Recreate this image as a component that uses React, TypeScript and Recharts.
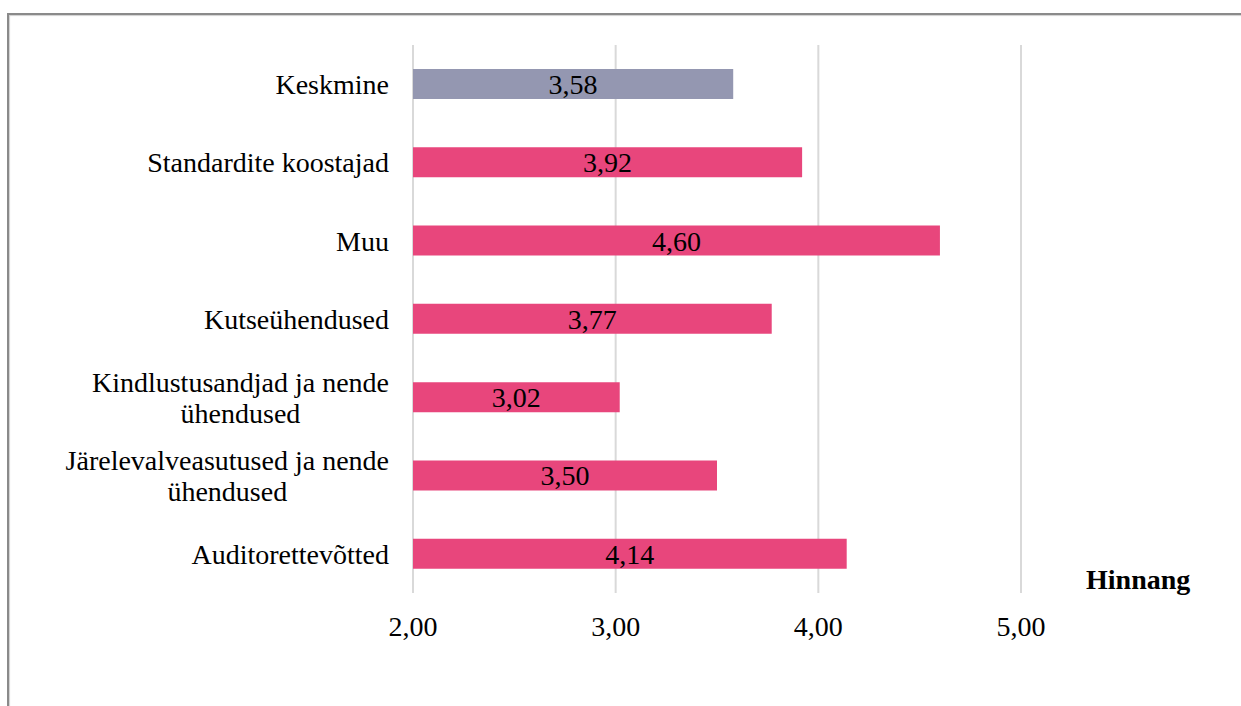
import React from 'react';
import { BarChart, Bar, XAxis, YAxis, CartesianGrid, Cell, LabelList, Label } from 'recharts';

// Average rating by stakeholder group
const categories = [
  'Keskmine',
  'Standardite koostajad',
  'Muu',
  'Kutseühendused',
  'Kindlustusandjad ja nende\nühendused',
  'Järelevalveasutused ja nende\nühendused',
  'Auditorettevõtted',
];
const ratings = [3.58, 3.92, 4.6, 3.77, 3.02, 3.5, 4.14];
const xTicks = [2, 3, 4, 5];
const axisTitle = 'Hinnang';

const data = categories.map((name, i) => ({ name, value: ratings[i] }));

const FONT = "'Liberation Serif', 'Times New Roman', serif";
const FS = 28;
const PINK = '#e8467c';
const GREY = '#9497b1';

const fmt = (v: number) => v.toFixed(2).replace('.', ',');

let ctx: CanvasRenderingContext2D | null = null;
const measure = (s: string) => {
  if (!ctx && typeof document !== 'undefined') {
    ctx = document.createElement('canvas').getContext('2d');
  }
  if (ctx) {
    ctx.font = `${FS}px ${FONT}`;
    return ctx.measureText(s).width;
  }
  return s.length * FS * 0.45;
};

const CategoryTick = (props: any) => {
  const { x, y, payload } = props;
  const lines: string[] = String(payload.value).split('\n');
  const right = x - 24;
  const lineH = 31;
  if (lines.length === 1) {
    return (
      <text x={right} y={y} dy="0.35em" textAnchor="end" fontFamily={FONT} fontSize={FS} fill="#000">
        {lines[0]}
      </text>
    );
  }
  const w = Math.max(...lines.map(measure));
  const cx = right - w / 2;
  const top = y - ((lines.length - 1) * lineH) / 2;
  return (
    <text x={cx} y={top} textAnchor="middle" fontFamily={FONT} fontSize={FS} fill="#000">
      {lines.map((l, i) => (
        <tspan key={i} x={cx} y={top + i * lineH} dy="0.35em">
          {l}
        </tspan>
      ))}
    </text>
  );
};

const ValueTick = (props: any) => {
  const { x, y, payload } = props;
  return (
    <text x={x} y={y + 43} textAnchor="middle" fontFamily={FONT} fontSize={FS} fill="#000">
      {fmt(payload.value)}
    </text>
  );
};

const AxisTitle = (props: any) => {
  const vb = props.viewBox || {};
  return (
    <text
      x={vb.x + vb.width + 65}
      y={vb.y - 4}
      textAnchor="start"
      fontFamily={FONT}
      fontSize={FS}
      fontWeight="bold"
      fill="#000"
    >
      {axisTitle}
    </text>
  );
};

export default function App() {
  return (
    <div style={{ position: 'absolute', left: 0, top: 0, width: 1241, height: 706, overflow: 'hidden', background: '#fff' }}>
      <div
        style={{
          position: 'absolute',
          left: 7,
          top: 13,
          width: 1400,
          height: 900,
          borderTop: '2px solid #8a8a8a',
          borderLeft: '2px solid #8a8a8a',
          boxShadow: 'inset 1px 1px 1px #d0d0d0',
        }}
      />
      <div style={{ position: 'absolute', left: 0, top: 0 }}>
        <BarChart
          width={1241}
          height={706}
          data={data}
          layout="vertical"
          margin={{ top: 45, right: 220, bottom: 0, left: 0 }}
        >
          <CartesianGrid horizontal={false} vertical={true} stroke="#d9d9d9" strokeWidth={2} />
          <XAxis
            type="number"
            domain={[2, 5]}
            ticks={xTicks}
            interval={0}
            axisLine={false}
            tickLine={false}
            tickSize={0}
            tickMargin={0}
            height={113}
            tick={<ValueTick />}
          >
            <Label content={<AxisTitle />} />
          </XAxis>
          <YAxis
            type="category"
            dataKey="name"
            width={413}
            axisLine={false}
            tickLine={false}
            tickSize={0}
            tickMargin={0}
            interval={0}
            tick={<CategoryTick />}
          />
          <Bar dataKey="value" barSize={30} isAnimationActive={false}>
            {data.map((d, i) => (
              <Cell key={d.name} fill={i === 0 ? GREY : PINK} />
            ))}
            <LabelList
              dataKey="value"
              position="center"
              formatter={(v: any) => fmt(Number(v))}
              style={{ fontFamily: FONT, fontSize: FS, fill: '#000' }}
            />
          </Bar>
        </BarChart>
      </div>
    </div>
  );
}
